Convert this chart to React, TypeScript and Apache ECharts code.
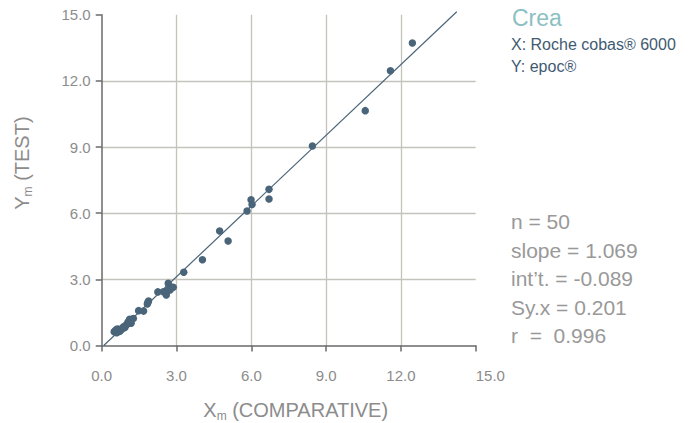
import React, { useEffect, useRef } from "react";
import * as echarts from "echarts";

const xValues = [
  12.46, 11.58, 10.57, 8.45, 6.71, 6.71, 5.99, 6.03, 5.83, 4.73,
  5.07, 4.04, 3.29, 2.67, 2.87, 2.74, 2.59, 2.25, 2.47, 1.88,
  1.83, 1.48, 1.68, 1.27, 1.12, 1.18, 1.0, 0.93, 0.83, 0.69,
  0.57, 0.6, 0.73, 0.53, 0.62, 0.66, 0.78, 0.88, 0.95, 1.05,
  1.1, 1.2, 0.5, 0.7, 0.85, 2.7, 2.78, 2.62, 1.85, 0.58,
];
const yValues = [
  13.72, 12.46, 10.65, 9.05, 7.08, 6.64, 6.61, 6.39, 6.1, 5.19,
  4.74, 3.89, 3.32, 2.82, 2.64, 2.52, 2.29, 2.43, 2.44, 2.02,
  1.88, 1.58, 1.56, 1.22, 1.19, 1.01, 0.94, 0.82, 0.76, 0.73,
  0.7, 0.58, 0.65, 0.65, 0.75, 0.62, 0.72, 0.85, 0.9, 1.05,
  1.12, 1.18, 0.62, 0.68, 0.8, 2.72, 2.6, 2.48, 1.95, 0.66,
];
const slope = 1.069;
const intercept = -0.089;
const lineXs = [0.083, 14.24];
const axisTicks = ["0.0", "3.0", "6.0", "9.0", "12.0", "15.0"];
const statLines = ["n = 50", "slope = 1.069", "int\u2019t. = -0.089", "Sy.x = 0.201", "r  =  0.996"];
const titleText = "Crea";
const infoLines = ["X: Roche cobas\u00AE 6000", "Y: epoc\u00AE"];

const FONT = "'Liberation Sans', Arial, Helvetica, sans-serif";
const DOT = "#4a6579";
const AXIS = "#6a6a6a";
const GRID = "#c3c3bb";
const LABEL = "#8c8c8c";

export default function App() {
  const ref = useRef<HTMLDivElement>(null);
  useEffect(() => {
    if (!ref.current) return;
    const chart = echarts.init(ref.current, undefined, { renderer: "svg" });
    const points = xValues.map((x, i) => [x, yValues[i]]);
    const linePts = lineXs.map((x) => [x, slope * x + intercept]);
    const tickFmt = (v: number) => axisTicks[Math.round(v / 3)] ?? v.toFixed(1);
    const commonAxis = {
      type: "value" as const,
      min: 0,
      max: 15,
      interval: 3,
      axisLine: { show: true, lineStyle: { color: AXIS, width: 1.5 } },
      axisTick: { show: true, length: 6, lineStyle: { color: AXIS, width: 1.5 } },
      splitLine: { show: true, showMinLine: false, showMaxLine: false, lineStyle: { color: GRID, width: 1.3 } },
      nameLocation: "middle" as const,
    };
    const subRich = { sub: { fontSize: 12, fontFamily: FONT, color: LABEL, padding: [11, 0, 0, 0] } };
    chart.setOption({
      animation: false,
      grid: { left: 101.7, top: 14.7, right: 218.3, bottom: 77.5, outerBoundsMode: "none", containLabel: false },
      xAxis: {
        ...commonAxis,
        axisLabel: { color: LABEL, fontSize: 15, fontFamily: FONT, margin: 22, formatter: tickFmt, alignMaxLabel: "left" },
        name: "X{sub|m} (COMPARATIVE)",
        nameGap: 53,
        nameTextStyle: { color: LABEL, fontSize: 20, fontFamily: FONT, padding: [0, 0, 0, 14], rich: subRich },
      },
      yAxis: {
        ...commonAxis,
        axisLabel: { color: LABEL, fontSize: 15, fontFamily: FONT, margin: 11, formatter: tickFmt },
        name: "Y{sub|m} (TEST)",
        nameGap: 68,
        nameRotate: 90,
        nameTextStyle: { color: LABEL, fontSize: 20, fontFamily: FONT, padding: [0, 0, 0, 34], rich: subRich },
      },
      series: [
        {
          type: "line",
          data: linePts,
          showSymbol: false,
          clip: false,
          lineStyle: { color: DOT, width: 1.2 },
          silent: true,
          z: 2,
        },
        {
          type: "scatter",
          data: points,
          symbolSize: 7.5,
          itemStyle: { color: DOT, opacity: 1 },
          z: 3,
        },
      ],
      graphic: [
        {
          type: "text",
          left: 512,
          top: 6,
          style: { text: titleText, fill: "#8cc0c3", font: `23px ${FONT}` },
        },
        ...infoLines.map((t, i) => ({
          type: "text",
          left: 511,
          top: 36 + i * 22,
          style: { text: t, fill: "#3f5a72", font: `16px ${FONT}` },
        })),
        ...statLines.map((t, i) => ({
          type: "text",
          left: 511,
          top: 211 + i * 28.5,
          style: { text: t, fill: "#999999", font: `21px ${FONT}` },
        })),
      ],
    });
    return () => chart.dispose();
  }, []);
  return <div ref={ref} style={{ width: 694, height: 423, position: "absolute", left: 0, top: 0 }} />;
}
